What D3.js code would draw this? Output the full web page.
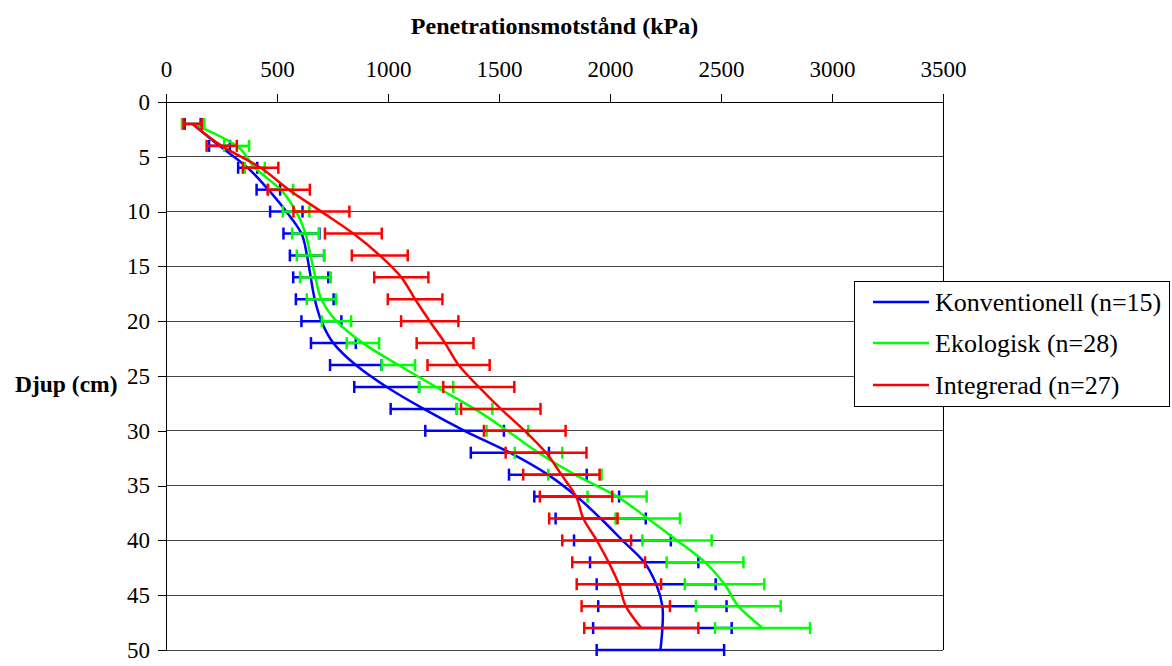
<!DOCTYPE html>
<html>
<head>
<meta charset="utf-8">
<script src="https://cdn.jsdelivr.net/npm/d3@7"></script>
<style>
  html, body { margin: 0; padding: 0; background: #fff; }
  svg { display: block; }
  text { font-family: "Liberation Serif", "Times New Roman", serif; fill: #000; }
</style>
</head>
<body>
<svg id="chart" width="1172" height="666"></svg>
<script>
// ---- data ----
const xTicks = [0, 500, 1000, 1500, 2000, 2500, 3000, 3500];
const yTicks = [0, 5, 10, 15, 20, 25, 30, 35, 40, 45, 50];

const depthsBlue = [2,4,6,8,10,12,14,16,18,20,22,24,26,28,30,32,34,36,38,40,42,44,46,48,50];
const depthsGreenRed = [2,4,6,8,10,12,14,16,18,20,22,24,26,28,30,32,34,36,38,40,42,44,46,48];

const konvMean = [120,241,368,461,542,610,635,652,670,700,754,855,994,1161,1345,1549,1720,1850,1958,2056,2154,2208,2236,2236,2227];
const konvErr  = [36,47,43,53,73,81,77,79,85,90,101,116,146,149,177,176,175,191,203,218,244,268,289,312,287];

const ekoMean = [122,318,400,517,586,628,651,673,700,768,887,1047,1217,1390,1538,1678,1842,2032,2170,2302,2428,2516,2578,2687];
const ekoErr  = [50,56,45,56,60,60,62,69,66,66,73,75,77,80,94,107,120,133,145,156,173,179,191,214];

const intMean = [120,251,426,553,700,844,963,1060,1122,1188,1257,1318,1409,1508,1616,1712,1781,1847,1880,1940,1994,2040,2071,2141];
const intErr  = [41,68,80,95,126,128,126,122,123,129,128,140,160,179,184,182,172,163,154,155,164,190,199,257];

const seriesNames = ["Konventionell (n=15)", "Ekologisk (n=28)", "Integrerad (n=27)"];
const seriesColors = ["#0000ff", "#00ff00", "#ff0000"];

const series = [
  { name: seriesNames[0], color: seriesColors[0], depths: depthsBlue, mean: konvMean, err: konvErr },
  { name: seriesNames[1], color: seriesColors[1], depths: depthsGreenRed, mean: ekoMean, err: ekoErr },
  { name: seriesNames[2], color: seriesColors[2], depths: depthsGreenRed, mean: intMean, err: intErr }
];

// ---- layout ----
const FONT = '"Liberation Serif", "Times New Roman", serif';
const svg = d3.select("#chart");
const L = 166, R = 943, T = 102, B = 650;
const x = d3.scaleLinear().domain([0, 3500]).range([L, R]);
const y = d3.scaleLinear().domain([0, 50]).range([T, B]);

// gridlines
svg.append("g").selectAll("line").data(yTicks.filter(d => d > 0)).join("line")
  .attr("x1", L).attr("x2", R)
  .attr("y1", d => y(d)).attr("y2", d => y(d))
  .attr("stroke", "#444").attr("stroke-width", 1).attr("shape-rendering", "crispEdges");

// right border
svg.append("line").attr("x1", R).attr("x2", R).attr("y1", T).attr("y2", B)
  .attr("stroke", "#000").attr("stroke-width", 1).attr("shape-rendering", "crispEdges");

// top axis
const xAxis = d3.axisTop(x).tickValues(xTicks).tickSize(8).tickPadding(17).tickFormat(d3.format("d"));
const gx = svg.append("g").attr("transform", `translate(0,${T})`).call(xAxis).attr("font-family", FONT);
gx.select(".domain").attr("stroke", "#000").attr("shape-rendering", "crispEdges");
gx.selectAll(".tick line").attr("stroke", "#000").attr("shape-rendering", "crispEdges");
gx.selectAll(".tick text").style("font-family", FONT).style("font-size", "23px").attr("fill", "#000");

// left axis
const yAxis = d3.axisLeft(y).tickValues(yTicks).tickSize(8).tickPadding(8).tickFormat(d3.format("d"));
const gy = svg.append("g").attr("transform", `translate(${L},0)`).call(yAxis).attr("font-family", FONT);
gy.select(".domain").attr("stroke", "#000").attr("shape-rendering", "crispEdges");
gy.selectAll(".tick line").attr("stroke", "#000").attr("shape-rendering", "crispEdges");
gy.selectAll(".tick text").style("font-family", FONT).style("font-size", "23px").attr("fill", "#000");

// axis titles
svg.append("text").attr("x", (L + R) / 2).attr("y", 34).attr("text-anchor", "middle")
  .style("font-size", "24px").style("font-weight", "bold").text("Penetrationsmotstånd (kPa)");
svg.append("text").attr("x", 15).attr("y", 392).attr("text-anchor", "start")
  .style("font-size", "23.5px").style("font-weight", "bold").text("Djup (cm)");

// series
const line = d3.line().x(d => x(d.v)).y(d => y(d.d)).curve(d3.curveCatmullRom.alpha(0));
const capH = 6;
series.forEach(s => {
  const pts = s.depths.map((d, i) => ({ d, v: s.mean[i], e: s.err[i] }));
  const g = svg.append("g");
  g.append("path").datum(pts).attr("d", line)
    .attr("fill", "none").attr("stroke", s.color).attr("stroke-width", 2.5);
  const eb = g.append("g").selectAll("g").data(pts).join("g");
  eb.append("line")
    .attr("x1", d => x(d.v - d.e)).attr("x2", d => x(d.v + d.e))
    .attr("y1", d => y(d.d)).attr("y2", d => y(d.d))
    .attr("stroke", s.color).attr("stroke-width", 2.5);
  eb.append("line")
    .attr("x1", d => x(d.v - d.e)).attr("x2", d => x(d.v - d.e))
    .attr("y1", d => y(d.d) - capH).attr("y2", d => y(d.d) + capH)
    .attr("stroke", s.color).attr("stroke-width", 2.5);
  eb.append("line")
    .attr("x1", d => x(d.v + d.e)).attr("x2", d => x(d.v + d.e))
    .attr("y1", d => y(d.d) - capH).attr("y2", d => y(d.d) + capH)
    .attr("stroke", s.color).attr("stroke-width", 2.5);
});

// legend
const lg = svg.append("g");
lg.append("rect").attr("x", 854.5).attr("y", 281.5).attr("width", 315).attr("height", 125)
  .attr("fill", "#fff").attr("stroke", "#000").attr("stroke-width", 1);
const legendY = [302, 343, 385];
series.forEach((s, i) => {
  lg.append("line").attr("x1", 873).attr("x2", 929).attr("y1", legendY[i]).attr("y2", legendY[i])
    .attr("stroke", s.color).attr("stroke-width", 2.5);
  lg.append("text").attr("x", 935).attr("y", legendY[i]).attr("dy", "0.33em")
    .style("font-size", "26px").text(s.name);
});
</script>
</body>
</html>
